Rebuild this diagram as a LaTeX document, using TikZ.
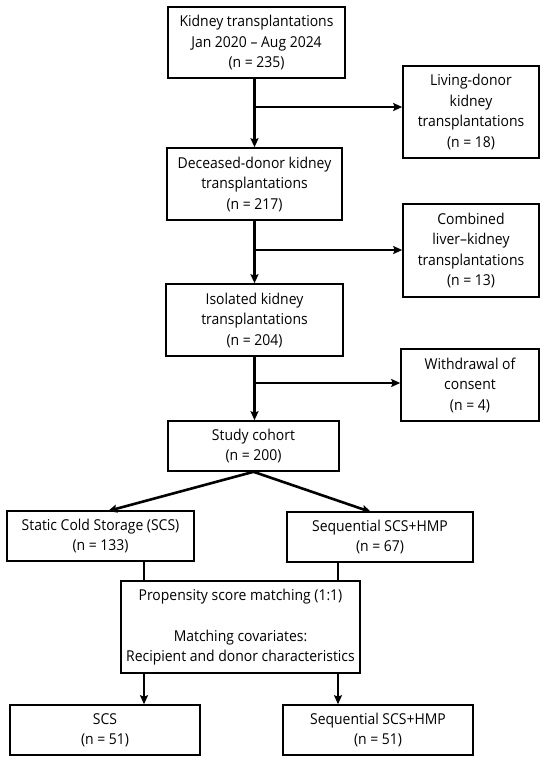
\documentclass[tikz,border=0pt]{standalone}
\usepackage{fontspec}
\setmainfont{Open Sans}[FakeStretch=0.93]
\usetikzlibrary{arrows.meta}
\begin{document}
\begin{tikzpicture}[x=1pt,y=-1pt,
  box/.style={draw=black,line width=1.6pt,align=center,inner sep=0pt,
    font=\fontsize{15}{20.5}\selectfont},
  conn/.style={line width=2.6pt},
  arr/.style={conn,-{Stealth[length=9pt,width=8pt,inset=1.5pt]}}]
\useasboundingbox (0,0) rectangle (550,761);
\fill[white] (0,0) rectangle (550,761);
\node[box,minimum width=177pt,minimum height=71pt] (k) at (256.5,42.5)
  {Kidney transplantations\\Jan 2020 – Aug 2024\\(n = 235)};
\node[box,minimum width=136pt,minimum height=92pt] (liv) at (471,112)
  {Living-donor\\kidney\\transplantations\\(n = 18)};
\node[box,minimum width=175pt,minimum height=72pt] (dec) at (254.5,184)
  {Deceased-donor kidney\\transplantations\\(n = 217)};
\node[box,minimum width=136pt,minimum height=93pt] (comb) at (471,250.5)
  {Combined\\liver–kidney\\transplantations\\(n = 13)};
\node[box,minimum width=177pt,minimum height=72pt] (iso) at (254.5,320)
  {Isolated kidney\\transplantations\\(n = 204)};
\node[box,minimum width=138pt,minimum height=72pt] (wd) at (470,385)
  {Withdrawal of\\consent\\(n = 4)};
\node[box,minimum width=171pt,minimum height=50pt] (sc) at (253.5,446)
  {Study cohort\\(n = 200)};
\node[box,minimum width=187pt,minimum height=50pt] (scs) at (100.5,536)
  {Static Cold Storage (SCS)\\(n = 133)};
\node[box,minimum width=186pt,minimum height=50pt] (hmp) at (380,537)
  {Sequential SCS+HMP\\(n = 67)};
\node[box,minimum width=239pt,minimum height=92pt] (psm) at (240.5,627)
  {Propensity score matching (1:1)\\[20.5pt]Matching covariates:\\Recipient and donor characteristics};
\node[box,minimum width=190pt,minimum height=50pt] (scsm) at (105,730)
  {SCS\\(n = 51)};
\node[box,minimum width=190pt,minimum height=50pt] (hmpm) at (378,730)
  {Sequential SCS+HMP\\(n = 51)};
% main spine
\draw[arr] (k.south -| dec.north) -- (dec.north);
\draw[arr] (dec.south) -- (iso.north);
\draw[arr] (iso.south) -- (iso.south |- sc.north);
% side branches
\coordinate (b1) at (254.5,107);
\coordinate (b2) at (254.5,250);
\coordinate (b3) at (254.5,383);
\draw[arr] (b1) -- (b1 -| liv.west);
\draw[arr] (b2) -- (b2 -| comb.west);
\draw[arr] (b3) -- (b3 -| wd.west);
% split
\coordinate (t1) at (108,511);
\coordinate (t2) at (371,512);
\draw[arr] (sc.south) -- (t1);
\draw[arr] (sc.south) -- (t2);
% to PSM
\coordinate (l1) at (144,561);
\coordinate (r1) at (338,562);
\draw[conn] (l1) -- (l1 |- psm.north);
\draw[conn] (r1) -- (r1 |- psm.north);
\draw[arr] (psm.south -| l1) -- (l1 |- scsm.north);
\draw[arr] (psm.south -| r1) -- (r1 |- hmpm.north);
\end{tikzpicture}
\end{document}
